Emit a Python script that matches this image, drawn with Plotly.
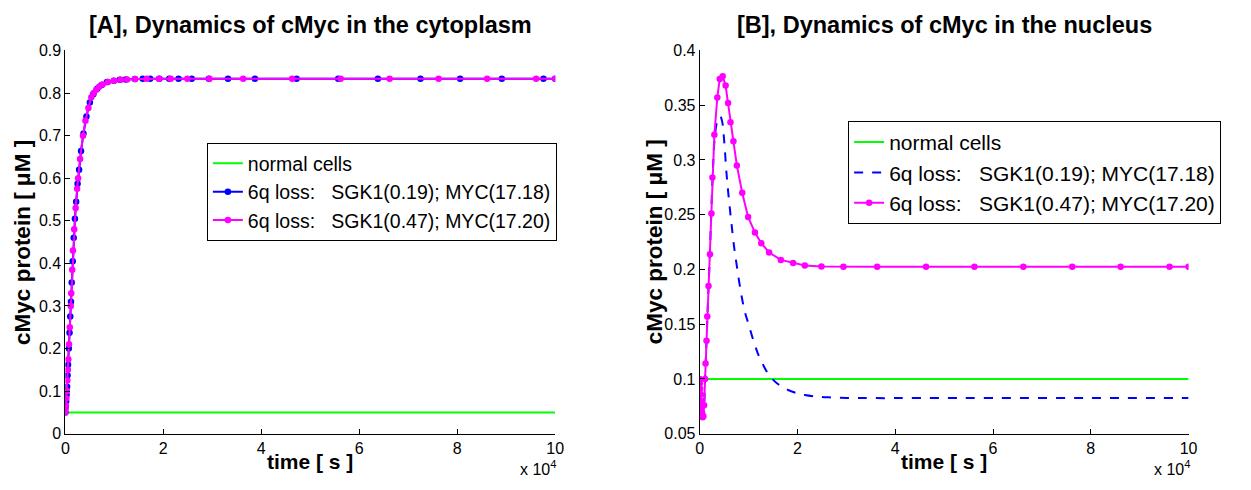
import plotly.graph_objects as go

# ---------------- data (time in units of 10^4 s) ----------------
# magenta series: 6q loss SGK1(0.47); MYC(17.20)
mag_t = [0, 0.005, 0.01, 0.02, 0.03, 0.04, 0.05, 0.06, 0.075, 0.09, 0.11, 0.12, 0.14, 0.155,
         0.18, 0.21, 0.24, 0.26, 0.30, 0.36, 0.41, 0.47, 0.53, 0.58, 0.63, 0.69, 0.76, 0.87,
         0.99, 1.13, 1.26, 1.42, 1.66, 1.91, 2.15, 2.49, 2.94, 3.63, 4.63, 5.62, 6.62, 7.62,
         8.61, 9.61, 10.0]
mag_cyto = [0.05, 0.058, 0.066, 0.083, 0.10, 0.125, 0.15, 0.175, 0.21, 0.25, 0.30, 0.33, 0.385,
            0.43, 0.48, 0.53, 0.575, 0.60, 0.645, 0.70, 0.735, 0.765, 0.79, 0.80, 0.808, 0.815,
            0.82, 0.826, 0.829, 0.831, 0.832, 0.833, 0.8335, 0.8335, 0.8335, 0.8335, 0.8335,
            0.8335, 0.8335, 0.8335, 0.8335, 0.8335, 0.8335, 0.8335, 0.8335]
mag_nuc = [0.100, 0.096, 0.091, 0.086, 0.080, 0.074, 0.069, 0.065, 0.066, 0.076, 0.100, 0.114,
           0.135, 0.157, 0.185, 0.214, 0.251, 0.284, 0.323, 0.357, 0.374, 0.3765, 0.368, 0.352,
           0.3345, 0.317, 0.295, 0.270, 0.248, 0.2337, 0.224, 0.2155, 0.2087, 0.2058, 0.2037,
           0.2027, 0.2025, 0.2025, 0.2025, 0.2025, 0.2025, 0.2025, 0.2025, 0.2025, 0.2025]

# blue series (cytoplasm): 6q loss SGK1(0.19); MYC(17.18)
blue_cyto_t = [0, 0.008, 0.016, 0.025, 0.035, 0.045, 0.055, 0.07, 0.085, 0.10, 0.115, 0.13,
               0.15, 0.17, 0.195, 0.22, 0.25, 0.28, 0.32, 0.37, 0.43, 0.50, 0.57, 0.65, 0.74,
               0.85, 0.99, 1.11, 1.23, 1.42, 1.58, 1.73, 1.92, 2.12, 2.31, 2.58, 2.93, 3.32,
               3.87, 4.72, 5.57, 6.38, 7.25, 8.06, 8.91, 9.76, 10.0]
blue_cyto = [0.05, 0.063, 0.076, 0.091, 0.11, 0.137, 0.162, 0.20, 0.237, 0.275, 0.31, 0.355,
             0.405, 0.46, 0.505, 0.545, 0.587, 0.62, 0.664, 0.705, 0.745, 0.778, 0.797, 0.81,
             0.819, 0.826, 0.829, 0.831, 0.832, 0.833, 0.8335, 0.8335, 0.8335, 0.8335, 0.8335,
             0.8335, 0.8335, 0.8335, 0.8335, 0.8335, 0.8335, 0.8335, 0.8335, 0.8335, 0.8335,
             0.8335, 0.8335]

# blue series (nucleus), dashed
blue_nuc_t = [0, 0.02, 0.04, 0.06, 0.08, 0.10, 0.12, 0.14, 0.17, 0.20, 0.23, 0.26, 0.30, 0.34,
              0.38, 0.42, 0.46, 0.50, 0.55, 0.60, 0.65, 0.70, 0.76, 0.84, 0.92, 1.0, 1.1, 1.21,
              1.32, 1.41, 1.5, 1.58, 1.7, 1.82, 2.0, 2.15, 2.4, 2.64, 3.0, 3.5, 4.5, 6.0, 8.0, 10.0]
blue_nuc = [0.100, 0.086, 0.074, 0.065, 0.068, 0.086, 0.112, 0.135, 0.172, 0.205, 0.243, 0.28,
            0.316, 0.332, 0.338, 0.340, 0.335, 0.318, 0.287, 0.263, 0.242, 0.222, 0.203, 0.180,
            0.162, 0.150, 0.135, 0.121, 0.111, 0.104, 0.0994, 0.096, 0.0924, 0.0897, 0.0869,
            0.0854, 0.0839, 0.0832, 0.0826, 0.0825, 0.0825, 0.0825, 0.0825, 0.0825]

# normal cells (flat)
normal_t = [0, 10.0]
normal_cyto = [0.05, 0.05]
normal_nuc = [0.1, 0.1]

labels = ["normal cells",
          "6q loss:   SGK1(0.19); MYC(17.18)",
          "6q loss:   SGK1(0.47); MYC(17.20)"]
titles = ["[A], Dynamics of cMyc in the cytoplasm", "[B], Dynamics of cMyc in the nucleus"]
xlabel = "time [ s ]"
ylabel = "cMyc protein [ \u03bcM ]"
x_ticks = [0, 2, 4, 6, 8, 10]
y_ticks_a = [0, 0.1, 0.2, 0.3, 0.4, 0.5, 0.6, 0.7, 0.8, 0.9]
y_ticks_b = [0.05, 0.1, 0.15, 0.2, 0.25, 0.3, 0.35, 0.4]
y_ticktext_b = ["0.05", "0.1", "0.15", "0.2", "0.25", "0.3", "0.35", "0.4"]

GREEN, BLUE, MAGENTA = "#00FF00", "#0000FF", "#FF00FF"
FONT = "Liberation Sans, Arial, Helvetica, sans-serif"
W, H = 1251, 490

fig = go.Figure()

# ---- left panel ----
fig.add_trace(go.Scatter(x=normal_t, y=normal_cyto, mode="lines", name=labels[0],
                         line=dict(color=GREEN, width=2), xaxis="x", yaxis="y", legend="legend"))
fig.add_trace(go.Scatter(x=blue_cyto_t, y=blue_cyto, mode="lines+markers", name=labels[1],
                         line=dict(color=BLUE, width=2), marker=dict(color=BLUE, size=6.5),
                         xaxis="x", yaxis="y", legend="legend"))
fig.add_trace(go.Scatter(x=mag_t, y=mag_cyto, mode="lines+markers", name=labels[2],
                         line=dict(color=MAGENTA, width=2), marker=dict(color=MAGENTA, size=6.5),
                         xaxis="x", yaxis="y", legend="legend"))

# ---- right panel ----
fig.add_trace(go.Scatter(x=normal_t, y=normal_nuc, mode="lines", name=labels[0],
                         line=dict(color=GREEN, width=2), xaxis="x2", yaxis="y2", legend="legend2"))
fig.add_trace(go.Scatter(x=blue_nuc_t, y=blue_nuc, mode="lines", name=labels[1],
                         line=dict(color=BLUE, width=2, dash="dash", shape="spline"),
                         xaxis="x2", yaxis="y2", legend="legend2"))
fig.add_trace(go.Scatter(x=mag_t, y=mag_nuc, mode="lines+markers", name=labels[2],
                         line=dict(color=MAGENTA, width=2), marker=dict(color=MAGENTA, size=6.5),
                         xaxis="x2", yaxis="y2", legend="legend2"))

# axes geometry (pixels)
LX0, LX1 = 62, 557
RX0, RX1 = 703, 1197
YT, YB = 44, 441

def px(x):
    return x / W

def py(y):
    return (H - y) / H

axis_common = dict(showline=True, linecolor="black", linewidth=1, ticks="inside",
                   ticklen=5, tickcolor="black", showgrid=False, zeroline=False,
                   tickfont=dict(family=FONT, size=16, color="black"), mirror=False)

legend_common = dict(bgcolor="white", bordercolor="black", borderwidth=1,
                     xanchor="left", yanchor="top", tracegroupgap=0, itemwidth=30)

fig.update_layout(
    width=W, height=H, margin=dict(l=0, r=0, t=0, b=0),
    paper_bgcolor="white", plot_bgcolor="white",
    xaxis=dict(domain=[px(LX0), px(LX1)], range=[0, 10], tickvals=x_ticks, anchor="y",
               **axis_common),
    yaxis=dict(domain=[py(YB), py(YT)], range=[0, 0.9], tickvals=y_ticks_a, anchor="x",
               **axis_common),
    xaxis2=dict(domain=[px(RX0), px(RX1)], range=[0, 10], tickvals=x_ticks, anchor="y2",
                **axis_common),
    yaxis2=dict(domain=[py(YB), py(YT)], range=[0.05, 0.4], tickvals=y_ticks_b,
                ticktext=y_ticktext_b, anchor="x2", **axis_common),
    legend=dict(x=px(205), y=py(140), font=dict(family=FONT, size=19.5, color="black"),
                **legend_common),
    legend2=dict(x=px(853), y=py(117), font=dict(family=FONT, size=21, color="black"),
                 **legend_common),
    showlegend=True,
)

ann = []
for (x0, x1), t in zip([(LX0, LX1), (RX0, RX1)], titles):
    ann.append(dict(text="<b>%s</b>" % t, x=px((x0 + x1) / 2), y=py(18), xref="paper",
                    yref="paper", showarrow=False, xanchor="center", yanchor="middle",
                    font=dict(family=FONT, size=23.5, color="black")))
    ann.append(dict(text="<b>%s</b>" % xlabel, x=px((x0 + x1) / 2), y=py(470), xref="paper",
                    yref="paper", showarrow=False, xanchor="center", yanchor="middle",
                    font=dict(family=FONT, size=21, color="black")))
    ann.append(dict(text="x 10<sup>4</sup>", x=px(x1 + 3), y=py(477), xref="paper",
                    yref="paper", showarrow=False, xanchor="right", yanchor="middle",
                    font=dict(family=FONT, size=16, color="black")))
for xc in [18, 657]:
    ann.append(dict(text="<b>%s</b>" % ylabel, x=px(xc), y=py((YT + YB) / 2), xref="paper",
                    yref="paper", showarrow=False, xanchor="center", yanchor="middle",
                    textangle=-90, font=dict(family=FONT, size=22.5, color="black")))
fig.update_layout(annotations=ann)

fig.write_html("out.html")
